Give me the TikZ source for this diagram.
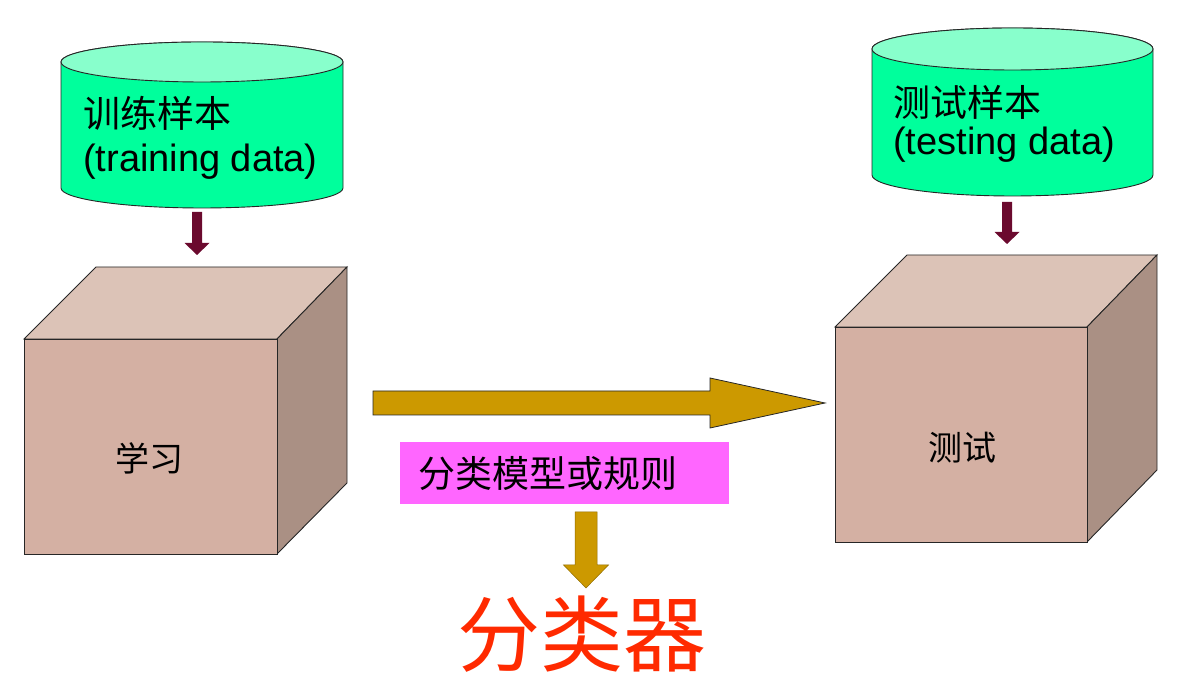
\documentclass[tikz,border=0pt]{standalone}
\usepackage{fontspec}
\setmainfont{Liberation Sans}
\newfontfamily\cjk{Noto Sans CJK SC}
\definecolor{cylbody}{HTML}{00FF9C}
\definecolor{cyltop}{HTML}{88FFCC}
\definecolor{cubefront}{HTML}{D4B0A3}
\definecolor{cubetop}{HTML}{DCC3B7}
\definecolor{cubeside}{HTML}{AA9084}
\definecolor{maroonarrow}{HTML}{6B0A2E}
\definecolor{goldarrow}{HTML}{CC9900}
\definecolor{labelbox}{HTML}{FF66FF}
\definecolor{bigred}{HTML}{FF2A00}
\tikzset{
  outline/.style={draw=black!85, line width=0.9pt, line join=miter},
  cyltext/.style={anchor=west, inner sep=0pt, font=\fontsize{38}{44}\selectfont},
  cubetext/.style={inner sep=0pt, font=\cjk\fontsize{34}{40}\selectfont},
  darrow/.style={fill=maroonarrow, draw=none},
  garrow/.style={fill=goldarrow, draw=black!85, line width=0.8pt},
}
\begin{document}
\begin{tikzpicture}[x=1pt,y=1pt]
\useasboundingbox (0,0) rectangle (1188,700);
% ---- left cylinder ----
\draw[outline, fill=cylbody] (61,638) -- (61,512) arc[start angle=180, end angle=360, x radius=141, y radius=20] -- (343,638) arc[start angle=0, end angle=180, x radius=141, y radius=20] -- cycle;
\draw[outline, fill=cyltop] (202,638) ellipse[x radius=141, y radius=20];
\node[cyltext, font=\cjk\fontsize{37}{44}\selectfont] (trainzh) at (83,587) {训练样本};
\node[cyltext] (trainen) at (83,538) {(training data)};
% ---- right cylinder ----
\draw[outline, fill=cylbody] (872,651) -- (872,525) arc[start angle=180, end angle=360, x radius=140.5, y radius=21] -- (1153,651) arc[start angle=0, end angle=180, x radius=140.5, y radius=21] -- cycle;
\draw[outline, fill=cyltop] (1012.5,651) ellipse[x radius=140.5, y radius=21];
\node[cyltext, font=\cjk\fontsize{37}{44}\selectfont] (testzh) at (893,598) {测试样本};
\node[cyltext] (testen) at (893,555) {(testing data)};
% ---- maroon arrows ----
\fill[darrow] (192,488) -- (202,488) -- (202,457) -- (209.5,457) -- (197,445) -- (184.5,457) -- (192,457) -- cycle;
\fill[darrow] (1002,498) -- (1012,498) -- (1012,468) -- (1019.5,468) -- (1007,456) -- (994.5,468) -- (1002,468) -- cycle;
% ---- left cube ----
\draw[outline, fill=cubetop] (24,361) -- (96,433) -- (347,433) -- (277,361) -- cycle;
\draw[outline, fill=cubeside] (277,361) -- (347,433) -- (347,217) -- (277,146) -- cycle;
\draw[outline, fill=cubefront] (24,146) rectangle (277,361);
\node[cubetext] (learn) at (149,242) {学习};
% ---- right cube ----
\draw[outline, fill=cubetop] (835,373) -- (907,445) -- (1157,445) -- (1087,373) -- cycle;
\draw[outline, fill=cubeside] (1087,373) -- (1157,445) -- (1157,230) -- (1087,158) -- cycle;
\draw[outline, fill=cubefront] (835,158) rectangle (1087,373);
\node[cubetext] (test) at (962,252) {测试};
% ---- big arrow ----
\draw[garrow] (373,309) -- (710,309) -- (710,322) -- (825,297) -- (710,272) -- (710,285) -- (373,285) -- cycle;
% ---- label box ----
\node[fill=labelbox, anchor=north west, minimum width=329pt, minimum height=62pt, inner xsep=18pt, inner ysep=0pt, text width=293pt, align=left, font=\cjk\fontsize{37}{44}\selectfont] (rule) at (400,258) {分类模型或规则};
% ---- small gold arrow ----
\draw[garrow, draw=goldarrow!70!black, line width=0.5pt] (575,188) -- (597,188) -- (597,135) -- (608.5,135) -- (586,112) -- (563.5,135) -- (575,135) -- cycle;
% ---- classifier ----
\node[inner sep=0pt, text=bigred, font=\cjk\fontsize{83}{90}\selectfont] (clf) at (582,66) {分类器};
\end{tikzpicture}
\end{document}
